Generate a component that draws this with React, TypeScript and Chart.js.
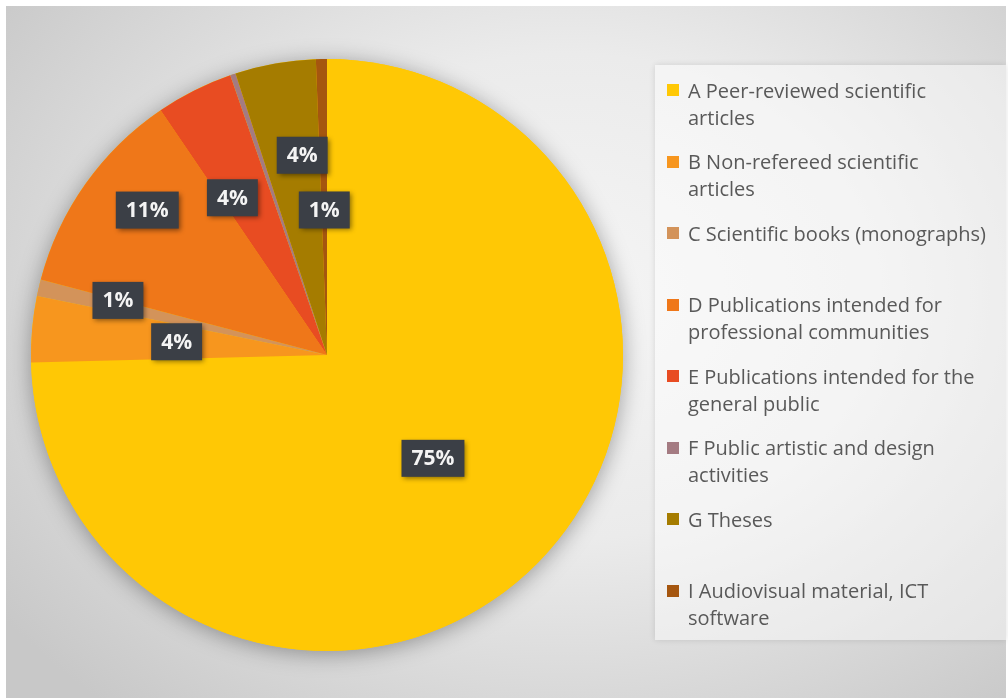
import React, { useEffect, useRef } from "react";
import { Chart, registerables } from "chart.js";

Chart.register(...registerables);

const categories = [
  "A Peer-reviewed scientific\narticles",
  "B Non-refereed scientific\narticles",
  "C Scientific books (monographs)",
  "D Publications intended for\nprofessional communities",
  "E Publications intended for the\ngeneral public",
  "F Public artistic and design\nactivities",
  "G Theses",
  "I Audiovisual material, ICT\nsoftware",
];
const values = [74.6, 3.6, 0.9, 11.4, 4.2, 0.3, 4.4, 0.6];
const colors = ["#FFC805", "#F7961E", "#D3935A", "#EF7719", "#E84C22", "#A47B82", "#A57C00", "#A5560F"];

// label placement tuning (fraction of radius, angle nudge in degrees)
const labelRadius = [0.5, 0.51, 0.73, 0.78, 0.62, 0.6, 0.68, 0.49];
const labelNudge = [0, 0, 1.5, 3.6, -4.4, 0, 3, 0];

const total = values.reduce((a, b) => a + b, 0);

const pieShadow = {
  id: "pieShadow",
  beforeDatasetsDraw(chart: any) {
    const arc = chart.getDatasetMeta(0).data[0];
    if (!arc) return;
    const { x, y, outerRadius } = arc.getProps(["x", "y", "outerRadius"], true);
    const ctx = chart.ctx;
    ctx.save();
    ctx.shadowColor = "rgba(0,0,0,0.35)";
    ctx.shadowBlur = 22;
    ctx.shadowOffsetY = 3;
    ctx.fillStyle = colors[0];
    ctx.beginPath();
    ctx.arc(x, y, outerRadius, 0, Math.PI * 2);
    ctx.fill();
    ctx.restore();
  },
};

const boxLabels = {
  id: "boxLabels",
  afterDatasetsDraw(chart: any) {
    const ctx = chart.ctx;
    const meta = chart.getDatasetMeta(0);
    meta.data.forEach((arc: any, i: number) => {
      const pct = Math.round((values[i] / total) * 100);
      if (pct < 1) return;
      const { x, y, startAngle, endAngle, outerRadius } = arc.getProps(
        ["x", "y", "startAngle", "endAngle", "outerRadius"],
        true
      );
      const mid = (startAngle + endAngle) / 2 + (labelNudge[i] * Math.PI) / 180;
      const r = outerRadius * labelRadius[i];
      const cx = x + Math.cos(mid) * r;
      const cy = y + Math.sin(mid) * r;
      const text = pct + "%";
      ctx.save();
      ctx.font = "bold 21px 'Open Sans'";
      const w = ctx.measureText(text).width + 20;
      const h = 37;
      ctx.shadowColor = "rgba(0,0,0,0.45)";
      ctx.shadowBlur = 5;
      ctx.shadowOffsetX = 2;
      ctx.shadowOffsetY = 2;
      ctx.fillStyle = "#3B3F46";
      ctx.fillRect(cx - w / 2, cy - h / 2, w, h);
      ctx.restore();
      ctx.save();
      ctx.font = "bold 21px 'Open Sans'";
      ctx.fillStyle = "#F4F4F4";
      ctx.textAlign = "center";
      ctx.textBaseline = "middle";
      ctx.fillText(text, cx, cy + 1);
      ctx.restore();
    });
  },
};

export default function App() {
  const ref = useRef<HTMLCanvasElement>(null);
  useEffect(() => {
    document.body.style.margin = "0";
    const chart = new Chart(ref.current!, {
      type: "pie",
      data: {
        labels: categories.map((c) => c.replace("\n", " ")),
        datasets: [{ data: values, backgroundColor: colors, borderWidth: 0 }],
      },
      options: {
        responsive: false,
        animation: false,
        layout: { padding: { left: 30, right: 384, top: 59, bottom: 47 } },
        plugins: { legend: { display: false }, tooltip: { enabled: false } },
      },
      plugins: [pieShadow, boxLabels],
    });
    return () => chart.destroy();
  }, []);

  const pitch = 71.57;
  return (
    <div style={{ position: "absolute", left: 0, top: 0, width: 1008, height: 698, background: "#fff", overflow: "hidden" }}>
      <div
        style={{
          position: "absolute",
          left: 6,
          top: 6,
          width: 1000,
          height: 692,
          background:
            "radial-gradient(ellipse 70% 78% at 56% 42%, #f5f5f5 0%, #ebebeb 45%, #c8c8c8 100%)",
        }}
      />
      <div
        style={{
          position: "absolute",
          left: 655,
          top: 65,
          width: 351,
          height: 575,
          background: "rgba(255,255,255,0.45)",
          boxShadow: "0 0 6px rgba(0,0,0,0.12)",
        }}
      />
      <canvas ref={ref} width={1008} height={698} style={{ position: "absolute", left: 0, top: 0 }} />
      {categories.map((c, i) => (
        <div
          key={c}
          style={{ position: "absolute", left: 667, top: 76.5 + i * pitch, width: 340 }}
        >
          <div
            style={{
              position: "absolute",
              left: 0,
              top: 7.5,
              width: 12,
              height: 12,
              background: colors[i],
            }}
          />
          <div
            style={{
              position: "absolute",
              left: 21,
              top: 0,
              whiteSpace: "pre",
              fontFamily: "'Open Sans', sans-serif",
              fontSize: 20,
              lineHeight: "27px",
              color: "#595959",
            }}
          >
            {c}
          </div>
        </div>
      ))}
    </div>
  );
}
